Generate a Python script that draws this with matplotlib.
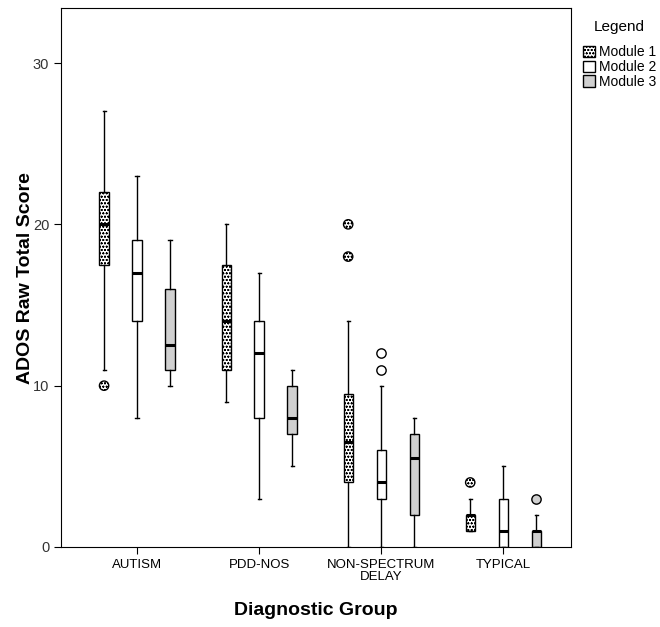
import numpy as np
import matplotlib
matplotlib.use("Agg")
import matplotlib.pyplot as plt
from matplotlib.patches import Patch

plt.rcParams['font.family'] = ['Liberation Sans', 'DejaVu Sans']
plt.rcParams['hatch.linewidth'] = 0.45
plt.rcParams['hatch.color'] = '#555555'

groups = ["AUTISM", "PDD-NOS", "NON-SPECTRUM\nDELAY", "TYPICAL"]
modules = ["Module 1", "Module 2", "Module 3"]

# per module, one value per group
whislo = {"Module 1": [11, 9, 0, 1], "Module 2": [8, 3, 0, 0], "Module 3": [10, 5, 0, 0]}
q1 = {"Module 1": [17.5, 11, 4, 1], "Module 2": [14, 8, 3, 0], "Module 3": [11, 7, 2, 0]}
med = {"Module 1": [20, 14, 6.5, 2], "Module 2": [17, 12, 4, 1], "Module 3": [12.5, 8, 5.5, 1]}
q3 = {"Module 1": [22, 17.5, 9.5, 2], "Module 2": [19, 14, 6, 3], "Module 3": [16, 10, 7, 1]}
whishi = {"Module 1": [27, 20, 14, 3], "Module 2": [23, 17, 10, 5], "Module 3": [19, 11, 8, 2]}
fliers = {"Module 1": [[10], [], [18, 20], [4]],
          "Module 2": [[], [], [11, 12], []],
          "Module 3": [[], [], [], [3]]}

faces = {"Module 1": "white", "Module 2": "white", "Module 3": "#d0d0d0"}
hatches = {"Module 1": "ooooo", "Module 2": None, "Module 3": None}
offsets = [-0.27, 0.0, 0.27]

fig = plt.figure(figsize=(6.6, 6.27), dpi=100)
ax = fig.add_axes([0.0924, 0.1276, 0.773, 0.8594])

for m, off in zip(modules, offsets):
    stats = []
    for i in range(len(groups)):
        stats.append(dict(whislo=whislo[m][i], q1=q1[m][i], med=med[m][i],
                          q3=q3[m][i], whishi=whishi[m][i], fliers=[]))
    pos = np.arange(len(groups)) + off
    bp = ax.bxp(stats, positions=pos, widths=0.075, patch_artist=True,
                showfliers=False, capwidths=0.025,
                boxprops=dict(facecolor=faces[m], edgecolor='black', linewidth=1),
                medianprops=dict(color='black', linewidth=2.2),
                whiskerprops=dict(color='black', linewidth=1),
                capprops=dict(color='black', linewidth=1))
    if hatches[m]:
        for b in bp['boxes']:
            b.set_hatch(hatches[m])
    for i, fl in enumerate(fliers[m]):
        if fl:
            ax.scatter([pos[i]] * len(fl), fl, s=45, facecolor=faces[m],
                       edgecolor='black', linewidth=1, hatch=hatches[m], zorder=3)

ax.set_xlim(-0.623, 3.557)
ax.set_ylim(0, 33.4)
ax.set_xticks(range(len(groups)))
ax.set_xticklabels(groups, fontsize=9.5, linespacing=1.0)
ax.set_yticks([0, 10, 20, 30])
ax.tick_params(axis='y', labelsize=10.5, colors='black', length=5, labelcolor='#333333')
ax.tick_params(axis='x', length=5)
ax.set_ylabel("ADOS Raw Total Score", fontsize=14, fontweight='bold', labelpad=-1)
ax.set_xlabel("Diagnostic Group", fontsize=14, fontweight='bold', labelpad=14)

handles = [Patch(facecolor=faces[m], edgecolor='black', hatch=hatches[m], label=m) for m in modules]
leg = fig.legend(handles=handles, title="Legend", loc='upper left',
                 bbox_to_anchor=(0.868, 0.983), frameon=False, fontsize=10,
                 title_fontsize=11, handlelength=0.9, handleheight=0.9,
                 handletextpad=0.3, labelspacing=0.05, borderpad=0.2)
leg._legend_box.sep = 8

fig.savefig("out.png", dpi=100)
